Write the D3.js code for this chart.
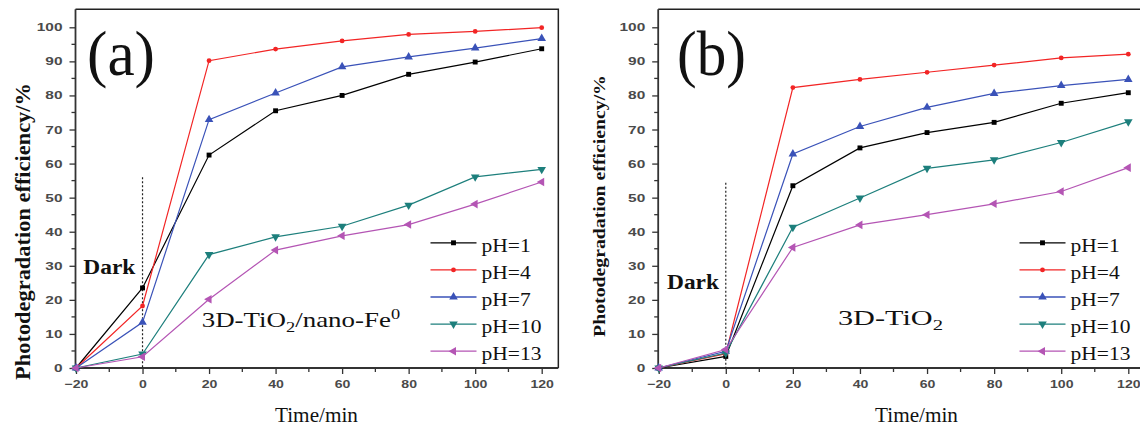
<!DOCTYPE html>
<html><head><meta charset="utf-8">
<script src="https://cdn.jsdelivr.net/npm/d3@7"></script>
<style>body{margin:0;background:#fff}svg{display:block}</style>
</head><body>
<svg id="c" width="1140" height="433"></svg>
<script>
const times = [-20, 0, 20, 40, 60, 80, 100, 120];
const seriesNames = ["pH=1", "pH=4", "pH=7", "pH=10", "pH=13"];
// Panel (a): 3D-TiO2/nano-Fe0
const a_pH1  = [0, 23.5, 62.5, 75.5, 80.0, 86.2, 89.8, 93.7];
const a_pH4  = [0, 18.2, 90.2, 93.6, 96.0, 97.9, 98.8, 99.9];
const a_pH7  = [0, 13.4, 72.9, 80.7, 88.4, 91.3, 93.9, 96.7];
const a_pH10 = [0, 4.1, 33.3, 38.5, 41.6, 47.8, 56.1, 58.3];
const a_pH13 = [0, 3.3, 20.2, 34.6, 38.8, 42.1, 48.1, 54.6];
// Panel (b): 3D-TiO2
const b_pH1  = [0, 3.4, 53.5, 64.6, 69.1, 72.1, 77.7, 80.8];
const b_pH4  = [0, 4.2, 82.3, 84.7, 86.8, 88.9, 91.0, 92.1];
const b_pH7  = [0, 4.9, 62.8, 70.9, 76.5, 80.6, 82.9, 84.7];
const b_pH10 = [0, 4.4, 41.3, 49.9, 58.6, 61.1, 66.2, 72.3];
const b_pH13 = [0, 5.4, 35.4, 42.0, 45.0, 48.2, 51.8, 58.8];
const xTicks = [-20, 0, 20, 40, 60, 80, 100, 120];
const yTicks = [0, 10, 20, 30, 40, 50, 60, 70, 80, 90, 100];

const colors = ["#000000", "#f22525", "#3a52b8", "#1d7f7c", "#b455b4"];
const symbols = [
  {t: d3.symbolSquare, s: 24, r: 0},
  {t: d3.symbolCircle, s: 18, r: 0},
  {t: d3.symbolTriangle, s: 32, r: 0},
  {t: d3.symbolTriangle, s: 32, r: 180},
  {t: d3.symbolTriangle, s: 32, r: -90}
];
const SERIF = "Liberation Serif, Times New Roman, serif";
const SANS = "Liberation Sans, Arial, sans-serif";

const svg = d3.select("#c");

// stretch a text element horizontally about anchorX so it spans targetW
function fitX(sel, targetW, anchorX) {
  const w = sel.node().getBBox().width;
  const s = targetW / w;
  sel.attr("transform", `translate(${anchorX},0) scale(${s},1) translate(${-anchorX},0)`);
  return s;
}

function panel(cfg) {
  const g = svg.append("g");
  const x = d3.scaleLinear().domain([-20, 120]).range([cfg.x0, cfg.x1]);
  const y = d3.scaleLinear().domain([0, 100]).range([368, 27.3]);
  const left = x(-20) - 0.5, right = x(125), top = y(105.3), bottom = y(0);
  g.append("path").attr("d", `M${left},${top}H${right}V${bottom}`)
    .attr("fill", "none").attr("stroke", "#222").attr("stroke-width", 1.5);
  // x axis
  const xa = g.append("g").attr("transform", `translate(0,${bottom})`)
    .call(d3.axisBottom(x).tickValues(xTicks).tickSize(6).tickSizeOuter(0).tickPadding(7));
  xa.append("g").selectAll("line").data(d3.range(-10, 121, 20)).join("line")
    .attr("x1", d => x(d)).attr("x2", d => x(d)).attr("y1", 0).attr("y2", 4)
    .attr("stroke", "#333").attr("stroke-width", 1.3);
  xa.select(".domain").attr("d", `M${left},0H${right}`);
  // y axis
  const ya = g.append("g").attr("transform", `translate(${left},0)`)
    .call(d3.axisLeft(y).tickValues(yTicks).tickSize(6).tickSizeOuter(0).tickPadding(6));
  ya.append("g").selectAll("line").data(d3.range(5, 101, 10)).join("line")
    .attr("y1", d => y(d)).attr("y2", d => y(d)).attr("x1", 0).attr("x2", -4)
    .attr("stroke", "#333").attr("stroke-width", 1.3);
  ya.select(".domain").attr("d", `M0,${top}V${bottom}`);
  [xa, ya].forEach(a => {
    a.select(".domain").attr("stroke", "#333").attr("stroke-width", 1.8);
    a.selectAll(".tick line").attr("stroke", "#333").attr("stroke-width", 1.3);
    a.selectAll(".tick text").attr("font-family", SANS)
      .attr("font-size", 11).attr("font-weight", "bold").attr("fill", "#4a4a4a");
  });
  xa.selectAll(".tick text").attr("dy", "0.9em").attr("y", 10)
    .attr("transform", `scale(1.28,1)`);
  ya.selectAll(".tick text").attr("x", -13)
    .attr("transform", `translate(-13,0) scale(1.4,1) translate(13,0)`);
  // dotted line at 0
  g.append("line").attr("x1", x(0)).attr("x2", x(0)).attr("y1", y(cfg.dotTop)).attr("y2", bottom)
    .attr("stroke", "#222").attr("stroke-width", 1.2).attr("stroke-dasharray", "2,2");
  // series
  const line = d3.line().x((d, i) => x(times[i])).y(d => y(d));
  cfg.data.forEach((vals, k) => {
    g.append("path").datum(vals).attr("d", line).attr("fill", "none")
      .attr("stroke", colors[k]).attr("stroke-width", 1.2);
    g.append("g").selectAll("path").data(vals).join("path")
      .attr("d", d3.symbol().type(symbols[k].t).size(symbols[k].s))
      .attr("transform", (d, i) => `translate(${x(times[i])},${y(d)}) rotate(${symbols[k].r})`)
      .attr("fill", colors[k]);
  });
  // legend
  const ltexts = [];
  seriesNames.forEach((name, k) => {
    const ly = 242.8 + k * 27.1;
    g.append("line").attr("x1", cfg.lx).attr("x2", cfg.lx + 46).attr("y1", ly).attr("y2", ly)
      .attr("stroke", colors[k]).attr("stroke-width", 1.3);
    g.append("path").attr("d", d3.symbol().type(symbols[k].t).size(symbols[k].s)())
      .attr("transform", `translate(${cfg.lx + 23},${ly}) rotate(${symbols[k].r})`)
      .attr("fill", colors[k]);
    ltexts.push(g.append("text").attr("x", cfg.lx + 51).attr("y", ly + 9).text(name)
      .attr("font-family", SERIF).attr("font-size", 19.5).attr("fill", "#111"));
  });
  const ls = 60 / ltexts[4].node().getBBox().width;
  ltexts.forEach(t => t.attr("transform", `translate(${cfg.lx + 51},0) scale(${ls},1) translate(${-(cfg.lx + 51)},0)`));
  // panel letter
  const L = g.append("text").attr("x", cfg.letterX).attr("y", 75).text(cfg.letter)
    .attr("font-family", SERIF).attr("font-size", 64).attr("fill", "#111");
  fitX(L, cfg.letterW, cfg.letterX);
  // Dark
  const D = g.append("text").attr("x", cfg.darkX).attr("y", cfg.darkY).text("Dark")
    .attr("font-family", SERIF).attr("font-size", 20.5)
    .attr("font-weight", "bold").attr("fill", "#111");
  fitX(D, 52.7, cfg.darkX);
  // sample label
  const t = g.append("text").attr("x", cfg.labX).attr("y", cfg.labY)
    .attr("font-family", SERIF).attr("font-size", 20.5).attr("fill", "#111");
  cfg.label.forEach(p => {
    const s = t.append("tspan").text(p.t);
    if (p.sub) s.attr("font-size", 14).attr("dy", 5);
    if (p.sup) s.attr("font-size", 14).attr("dy", -8);
    if (p.reset) s.attr("dy", p.reset);
  });
  fitX(t, cfg.labW, cfg.labX);
  // axis titles
  const XT = g.append("text").attr("x", cfg.xtX).attr("y", 422).attr("text-anchor", "middle")
    .text("Time/min").attr("font-family", SERIF)
    .attr("font-size", 22).attr("fill", "#111");
  fitX(XT, 83, cfg.xtX);
  const YT = g.append("text").attr("x", 0).attr("y", 0)
    .attr("text-anchor", "middle").text("Photodegradation efficiency/%")
    .attr("font-family", SERIF).attr("font-size", cfg.ytF)
    .attr("font-weight", "bold").attr("fill", "#111");
  const s = cfg.ytLen / YT.node().getBBox().width;
  YT.attr("transform", `translate(${cfg.ytX},${cfg.ytY}) rotate(-90) scale(${s},1)`);
}

panel({
  x0: 76, x1: 541.7, dotTop: 56, lx: 430.5, letter: "(a)", letterX: 87, letterW: 68,
  darkX: 83.3, darkY: 274, labX: 201.7, labY: 326.7, labW: 198.5, xtX: 316.5,
  ytX: 30, ytY: 231.5, ytLen: 297, ytF: 20,
  label: [{t: "3D-TiO"}, {t: "2", sub: true}, {t: "/nano-Fe", reset: -5}, {t: "0", sup: true}],
  data: [a_pH1, a_pH4, a_pH7, a_pH10, a_pH13]
});
panel({
  x0: 658.7, x1: 1128.3, dotTop: 54.4, lx: 1019.5, letter: "(b)", letterX: 677, letterW: 69,
  darkX: 667, darkY: 289, labX: 838, labY: 325, labW: 105, xtX: 916.5,
  ytX: 605, ytY: 206, ytLen: 262, ytF: 17.5,
  label: [{t: "3D-TiO"}, {t: "2", sub: true}],
  data: [b_pH1, b_pH4, b_pH7, b_pH10, b_pH13]
});
</script>
</body></html>
